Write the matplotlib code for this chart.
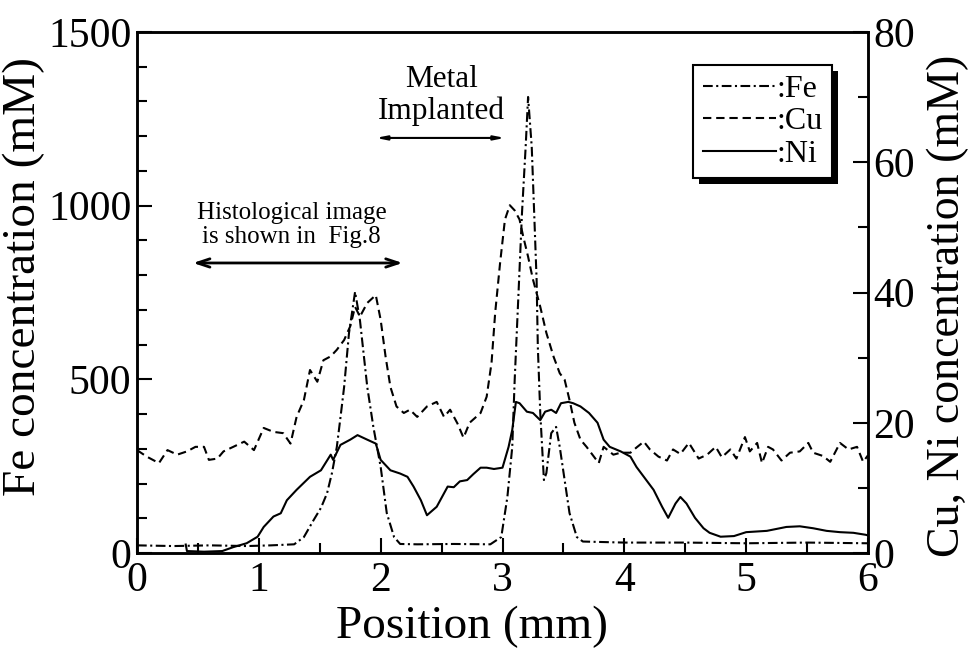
import numpy as np
import matplotlib
matplotlib.use("Agg")
import matplotlib.pyplot as plt
from matplotlib.ticker import MultipleLocator
from matplotlib.patches import Rectangle
from matplotlib.transforms import IdentityTransform

plt.rcParams['font.family'] = ['Liberation Serif', 'DejaVu Serif']
plt.rcParams['lines.scale_dashes'] = False

# Fe (left axis, mM)
fe_x = [0, 0.3, 0.6, 0.9, 1.1, 1.29, 1.37, 1.45, 1.51, 1.56, 1.60, 1.64, 1.67, 1.70,
        1.74, 1.79, 1.83, 1.89, 1.94, 2.00, 2.05, 2.11, 2.16, 2.3, 2.6, 2.9, 2.99,
        3.04, 3.08, 3.10, 3.13, 3.16, 3.19, 3.21, 3.24, 3.26, 3.28, 3.29, 3.31, 3.34,
        3.36, 3.40, 3.44, 3.47, 3.51, 3.55, 3.61, 3.66, 4.0, 4.5, 5.0, 5.5, 6.0]
fe_y = [22, 20, 22, 20, 22, 25, 46, 95, 130, 172, 230, 305, 390, 478,
        633, 752, 670, 478, 363, 248, 115, 46, 26, 25, 26, 25, 46,
        161, 305, 498, 737, 979, 1169, 1313, 1169, 979, 786, 593, 403, 210,
        230, 345, 363, 305, 210, 115, 46, 33, 30, 30, 28, 30, 28]

# Cu (right axis, mM)
cu_x = [0, 0.08, 0.18, 0.25, 0.33, 0.41, 0.48, 0.55, 0.59, 0.66, 0.71, 0.79, 0.88,
        0.96, 1.04, 1.12, 1.20, 1.26, 1.31, 1.37, 1.42, 1.48, 1.53, 1.59, 1.64, 1.70,
        1.75, 1.79, 1.83, 1.89, 1.96, 2.00, 2.04, 2.08, 2.13, 2.19, 2.24, 2.30, 2.38,
        2.46, 2.52, 2.57, 2.63, 2.68, 2.73, 2.82, 2.87, 2.91, 2.94, 2.98, 3.02, 3.06,
        3.10, 3.14, 3.17, 3.21, 3.25, 3.31, 3.36, 3.42, 3.47, 3.51, 3.55, 3.59, 3.64,
        3.69, 3.75, 3.79, 3.83, 3.91, 3.97, 4.05, 4.10, 4.16, 4.21, 4.28, 4.35, 4.40,
        4.46, 4.53, 4.61, 4.68, 4.75, 4.80, 4.87, 4.92, 4.99, 5.03, 5.09, 5.13, 5.18,
        5.22, 5.29, 5.36, 5.44, 5.51, 5.55, 5.63, 5.69, 5.77, 5.84, 5.91, 5.96, 6.0]
cu_y = [15.8, 14.8, 13.8, 15.8, 15.1, 15.6, 16.3, 16.3, 14.3, 14.5, 15.6, 16.3, 17.1,
        15.8, 19.2, 18.6, 18.4, 16.8, 20.9, 23.5, 28.1, 26.3, 29.6, 30.2, 31.2, 32.7,
        34.8, 37.8, 36.3, 38.4, 39.6, 35.8, 30.2, 25.5, 22.5, 21.5, 22.0, 20.9, 22.5,
        23.2, 20.9, 22.0, 19.9, 17.7, 20.0, 21.5, 24.0, 29.2, 36.9, 44.5, 51.2, 53.4,
        52.6, 51.2, 48.6, 45.5, 42.0, 37.8, 33.8, 30.1, 27.6, 26.6, 23.5, 20.0, 17.4,
        16.3, 14.8, 13.8, 16.3, 15.1, 15.4, 15.4, 16.2, 17.1, 15.9, 14.8, 14.2, 15.9,
        15.2, 16.9, 14.5, 15.1, 16.3, 14.7, 15.9, 14.5, 17.8, 15.6, 16.9, 13.8, 16.3,
        15.9, 14.2, 15.4, 15.6, 16.9, 15.4, 14.9, 14.0, 16.9, 15.9, 16.3, 14.0, 15.0]

# Ni (right axis, mM)
ni_x = [0.40, 0.41, 0.55, 0.70, 0.79, 0.90, 0.99, 1.04, 1.12, 1.18, 1.23, 1.31, 1.42,
        1.51, 1.59, 1.61, 1.67, 1.75, 1.81, 1.89, 1.96, 2.00, 2.08, 2.16, 2.22, 2.27,
        2.33, 2.38, 2.46, 2.55, 2.60, 2.65, 2.71, 2.76, 2.82, 2.87, 2.93, 3.00, 3.05,
        3.08, 3.11, 3.14, 3.20, 3.25, 3.31, 3.35, 3.40, 3.44, 3.48, 3.54, 3.58, 3.64,
        3.71, 3.78, 3.83, 3.88, 3.97, 4.05, 4.10, 4.16, 4.24, 4.31, 4.36, 4.42, 4.46,
        4.51, 4.58, 4.65, 4.70, 4.79, 4.90, 5.00, 5.17, 5.33, 5.44, 5.55, 5.66, 5.77,
        5.88, 5.98, 6.0]
ni_y = [1.3, 0.3, 0.2, 0.3, 0.9, 1.5, 2.5, 4.0, 5.6, 6.1, 8.1, 9.7, 11.7,
        12.7, 15.1, 14.3, 16.6, 17.4, 18.1, 17.4, 16.8, 14.3, 12.7, 12.2, 11.7, 10.2,
        8.1, 5.8, 7.1, 10.2, 10.1, 11.0, 11.2, 12.1, 13.1, 13.1, 12.9, 13.1, 16.3,
        18.9, 23.2, 23.0, 21.7, 21.5, 20.4, 21.7, 22.0, 21.5, 23.0, 23.2, 23.0, 22.5,
        21.5, 20.0, 17.4, 16.3, 15.6, 14.8, 13.2, 11.7, 9.7, 7.1, 5.4, 7.6, 8.6,
        7.6, 5.4, 3.8, 3.1, 2.5, 2.6, 3.2, 3.4, 4.0, 4.1, 3.8, 3.4, 3.2,
        3.1, 2.8, 2.7]

fig = plt.figure(figsize=(9.69, 6.5), dpi=100)
ax = fig.add_axes([137/969, 1 - 553/650, 731/969, 521/650])
ax2 = ax.twinx()

fe_line, = ax.plot(fe_x, fe_y, color='black', lw=1.5, linestyle=(0, (7, 2.5, 1.5, 2.5)))
cu_line, = ax2.plot(cu_x, cu_y, color='black', lw=1.5, linestyle=(0, (6, 3.5)))
ni_line, = ax2.plot(ni_x, ni_y, color='black', lw=1.5)

ax.set_xlim(0, 6)
ax.set_ylim(0, 1500)
ax2.set_ylim(0, 80)
ax.xaxis.set_major_locator(MultipleLocator(1))
ax.xaxis.set_minor_locator(MultipleLocator(0.5))
ax.yaxis.set_major_locator(MultipleLocator(500))
ax.yaxis.set_minor_locator(MultipleLocator(100))
ax2.yaxis.set_major_locator(MultipleLocator(20))
ax2.yaxis.set_minor_locator(MultipleLocator(10))

for a in (ax, ax2):
    a.tick_params(which='major', direction='in', length=11, width=1.5, labelsize=30, pad=4)
    a.tick_params(which='minor', direction='in', length=7, width=1.5)
    for s in a.spines.values():
        s.set_linewidth(1.8)
ax.tick_params(axis='x', which='both', top=False, pad=6)
ax.tick_params(axis='y', which='both', right=False)

ax.set_xlabel('Position (mm)', fontsize=34)
ax.set_ylabel('Fe concentration (mM)', fontsize=34)
ax2.set_ylabel('Cu, Ni concentration (mM)', fontsize=33)
ax.xaxis.set_label_coords(0.458, -0.1)
ax.yaxis.set_label_coords(-0.126, 0.53)
ax2.yaxis.set_label_coords(1.08, 0.475)

# annotations
ax.text(1.27, 943, 'Histological image\nis shown in  Fig.8', fontsize=18,
        ha='center', va='center', linespacing=1.12)
ax.annotate('', xy=(0.46, 835), xytext=(2.18, 835),
            arrowprops=dict(arrowstyle='<->, head_length=0.9, head_width=0.3',
                            lw=2, color='black', shrinkA=0, shrinkB=0))
ax.text(2.50, 1318, 'Metal\nImplanted', fontsize=22.5, ha='center', va='center',
        linespacing=1.12)
ax.annotate('', xy=(1.96, 1195), xytext=(3.02, 1195),
            arrowprops=dict(arrowstyle='<|-|>, head_length=0.6, head_width=0.12',
                            lw=1.5, color='black', shrinkA=0, shrinkB=0))

leg = ax2.legend([fe_line, cu_line, ni_line], [':Fe', ':Cu', ':Ni'],
                 loc='upper right', bbox_to_anchor=(0.951, 0.937), borderaxespad=0,
                 fontsize=23, handlelength=2.3, handletextpad=0, labelspacing=0.1,
                 borderpad=0.3, fancybox=False, framealpha=1, edgecolor='black')
leg.get_frame().set_linewidth(1.5)
leg.set_zorder(6)

# thick drop shadow behind the legend box
fig.canvas.draw()
bb = leg.get_window_extent()
ax2.add_patch(Rectangle((bb.x0 + 6, bb.y0 - 6), bb.width, bb.height,
                        transform=IdentityTransform(), facecolor='black',
                        edgecolor='none', zorder=5.5, clip_on=False))

fig.savefig('out.png', dpi=100)
